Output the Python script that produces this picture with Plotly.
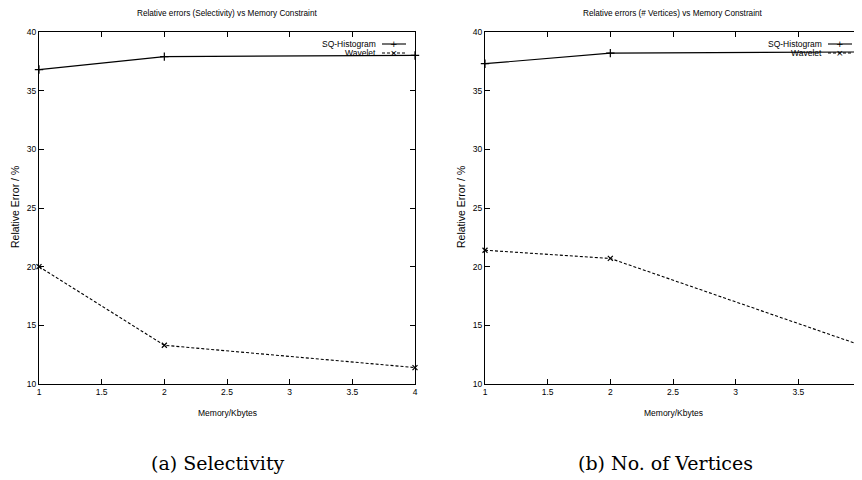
import plotly.graph_objects as go

memory_kb = [1, 2, 4]
sel_sq_hist = [36.8, 37.9, 38.0]
sel_wavelet = [20.0, 13.3, 11.4]
vert_sq_hist = [37.3, 38.2, 38.3]
vert_wavelet = [21.4, 20.7, 13.3]

x_ticks = [1, 1.5, 2, 2.5, 3, 3.5, 4]
y_ticks = [10, 15, 20, 25, 30, 35, 40]

panel_titles = ["Relative errors (Selectivity) vs Memory Constraint",
                "Relative errors (# Vertices) vs Memory Constraint"]
captions = ["(a) Selectivity", "(b) No. of Vertices"]
series_names = ["SQ-Histogram", "Wavelet"]

# page body has an 8px default margin; size the figure to fill the rest
OFF = 8
W, H = 862 - OFF, 480 - OFF
FONT = "Liberation Sans Narrow, Liberation Sans, Arial"


def px(x):
    return (x - OFF) / W


def py(y):
    return 1 - (y - OFF) / H


fig = go.Figure()

panels = [
    dict(sq=sel_sq_hist, wv=sel_wavelet, x0=39, x1=415, xa="x", ya="y", cap=218),
    dict(sq=vert_sq_hist, wv=vert_wavelet, x0=485, x1=861, xa="x2", ya="y2", cap=665),
]
ytop, ybot = 32, 384

for i, p in enumerate(panels):
    fig.add_trace(go.Scatter(x=memory_kb, y=p["sq"], mode="lines+markers",
                             line=dict(color="black", width=1.2),
                             marker=dict(symbol="cross-thin", size=6,
                                         line=dict(color="black", width=1.2)),
                             xaxis=p["xa"], yaxis=p["ya"], showlegend=False,
                             cliponaxis=False))
    fig.add_trace(go.Scatter(x=memory_kb, y=p["wv"], mode="lines+markers",
                             line=dict(color="black", width=1.1, dash="3px,2px"),
                             marker=dict(symbol="x-thin", size=5,
                                         line=dict(color="black", width=1.2)),
                             xaxis=p["xa"], yaxis=p["ya"], showlegend=False,
                             cliponaxis=False))
    sfx = "" if i == 0 else "2"
    axis_common = dict(showgrid=False, zeroline=False, showline=True, automargin=False,
                       linecolor="black", linewidth=1.2, mirror="ticks",
                       ticks="inside", ticklen=5, tickcolor="black",
                       tickwidth=1, tickfont=dict(family=FONT, size=8.5, color="black"))
    fig.update_layout(**{
        "xaxis" + sfx: dict(domain=[px(p["x0"]), px(p["x1"])], range=[1, 4],
                            tickvals=x_ticks, anchor="y" + sfx,
                            ticklabeloverflow="allow", **axis_common),
        "yaxis" + sfx: dict(domain=[py(ybot), py(ytop)], range=[10, 40],
                            tickvals=y_ticks, anchor="x" + sfx, **axis_common),
    })
    cx = (p["x0"] + p["x1"]) / 2
    fig.add_annotation(text=panel_titles[i], x=px(cx), y=py(14), xref="paper", yref="paper",
                       xanchor="center", yanchor="middle",
                       showarrow=False, font=dict(family=FONT, size=8.2, color="black"))
    fig.add_annotation(text="Memory/Kbytes", x=px(cx), y=py(413), xref="paper", yref="paper",
                       xanchor="center", yanchor="middle",
                       showarrow=False, font=dict(family=FONT, size=8.5, color="black"))
    fig.add_annotation(text="Relative Error / %", x=px(p["x0"] - 24), y=py(207),
                       xref="paper", yref="paper", textangle=-90,
                       xanchor="center", yanchor="middle",
                       showarrow=False, font=dict(family=FONT, size=10.5, color="black"))
    fig.add_annotation(text=captions[i], x=px(p["cap"]), y=py(463),
                       xref="paper", yref="paper", showarrow=False,
                       xanchor="center", yanchor="middle",
                       font=dict(family="DejaVu Serif, Liberation Serif", size=19, color="black"))
    # manual legend (gnuplot style: text then sample)
    lx1 = p["x1"] - 9
    lx0 = lx1 - 24
    for j, (name, dash, sym) in enumerate([(series_names[0], "solid", "+"),
                                           (series_names[1], "3px,2px", "×")]):
        ly = 44 + j * 9
        fig.add_annotation(text=name, x=px(lx0 - 4), y=py(ly), xref="paper", yref="paper",
                           xanchor="right", yanchor="middle", showarrow=False,
                           font=dict(family=FONT, size=8.5, color="black"))
        fig.add_shape(type="line", xref="paper", yref="paper",
                      x0=px(lx0), x1=px(lx1), y0=py(ly), y1=py(ly),
                      line=dict(color="black", width=1.1, dash=dash))
        fig.add_annotation(text=sym, x=px(lx0 + 12), y=py(ly), xref="paper", yref="paper",
                           xanchor="center", yanchor="middle", showarrow=False,
                           font=dict(family="DejaVu Sans", size=9, color="black"))

fig.update_layout(width=W, height=H, margin=dict(l=0, r=0, t=0, b=0, autoexpand=False),
                  paper_bgcolor="white", plot_bgcolor="white", showlegend=False)

fig.write_html("out.html")
